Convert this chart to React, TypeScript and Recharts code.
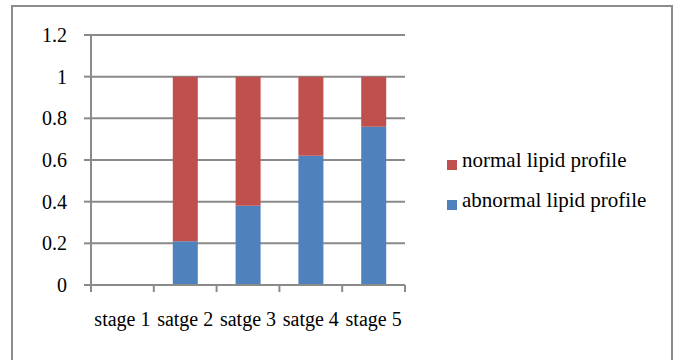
import React from 'react';
import { BarChart, Bar, XAxis, YAxis, CartesianGrid } from 'recharts';

const stages = ['stage 1', 'satge 2', 'satge 3', 'satge 4', 'stage 5'];
const abnormal = [0, 0.21, 0.38, 0.62, 0.76];
const normal = [0, 0.79, 0.62, 0.38, 0.24];
const yTicks = [0, 0.2, 0.4, 0.6, 0.8, 1, 1.2];

const data = stages.map((stage, i) => ({
  stage,
  abnormal: abnormal[i],
  normal: normal[i]
}));

const W = 680;
const H = 360;
const margin = { top: 35, right: 275, bottom: 25, left: 31 };
const Y_WIDTH = 60;
const X_HEIGHT = 50;
const plotLeft = margin.left + Y_WIDTH;
const plotRight = W - margin.right;
const plotBottom = H - margin.bottom - X_HEIGHT;
const halfBand = (plotRight - plotLeft) / stages.length / 2;

const GRID = '#8a8a8a';
const RED = '#C0504D';
const BLUE = '#4F81BD';
const FONT = "'Liberation Serif', 'Times New Roman', serif";

// Excel-style ticks sit on the category boundaries, not the centres
function StageTick(props: any) {
  const { x, payload, index } = props;
  const last = index === stages.length - 1;
  return (
    <g>
      <line x1={x - halfBand} x2={x - halfBand} y1={plotBottom} y2={plotBottom + 7} stroke={GRID} strokeWidth={2} />
      {last && (
        <line x1={x + halfBand} x2={x + halfBand} y1={plotBottom} y2={plotBottom + 7} stroke={GRID} strokeWidth={2} />
      )}
      <text x={x} y={plotBottom + 41} textAnchor="middle" fill="#000" fontSize={20} fontFamily={FONT}>
        {payload.value}
      </text>
    </g>
  );
}

const legendItems = [
  { name: 'normal lipid profile', color: RED },
  { name: 'abnormal lipid profile', color: BLUE }
];

export default function App() {
  return (
    <div style={{ position: 'absolute', left: 0, top: 0, width: W, height: H, background: '#fff', overflow: 'hidden' }}>
      <div
        style={{
          position: 'absolute',
          left: 11,
          top: 5,
          width: 662,
          height: 370,
          border: '2px solid #8c8c8c',
          boxSizing: 'border-box'
        }}
      />
      <BarChart width={W} height={H} data={data} margin={margin} barSize={25}>
        <CartesianGrid vertical={false} stroke={GRID} strokeWidth={2} />
        <XAxis
          dataKey="stage"
          height={X_HEIGHT}
          axisLine={{ stroke: GRID, strokeWidth: 2 }}
          tickLine={false}
          tick={<StageTick />}
          interval={0}
        />
        <YAxis
          width={Y_WIDTH}
          domain={[0, 1.2]}
          ticks={yTicks}
          interval={0}
          axisLine={{ stroke: GRID, strokeWidth: 2 }}
          tickLine={{ stroke: GRID, strokeWidth: 2 }}
          tickSize={7}
          tickMargin={17}
          tick={{ fill: '#000', fontSize: 20, fontFamily: FONT }}
          tickFormatter={(v: number) => String(Math.round(v * 10) / 10)}
        />
        <Bar dataKey="abnormal" stackId="a" fill={BLUE} isAnimationActive={false} />
        <Bar dataKey="normal" stackId="a" fill={RED} isAnimationActive={false} />
      </BarChart>
      <div style={{ position: 'absolute', left: 447, top: 149, width: 230, fontFamily: FONT, fontSize: 21, lineHeight: '23px', color: '#000' }}>
        {legendItems.map((it) => (
          <div key={it.name} style={{ display: 'flex', alignItems: 'flex-start', height: 40, whiteSpace: 'nowrap' }}>
            <span style={{ width: 10, height: 10, background: it.color, marginTop: 11, marginRight: 5, flex: 'none' }} />
            <span>{it.name}</span>
          </div>
        ))}
      </div>
    </div>
  );
}
